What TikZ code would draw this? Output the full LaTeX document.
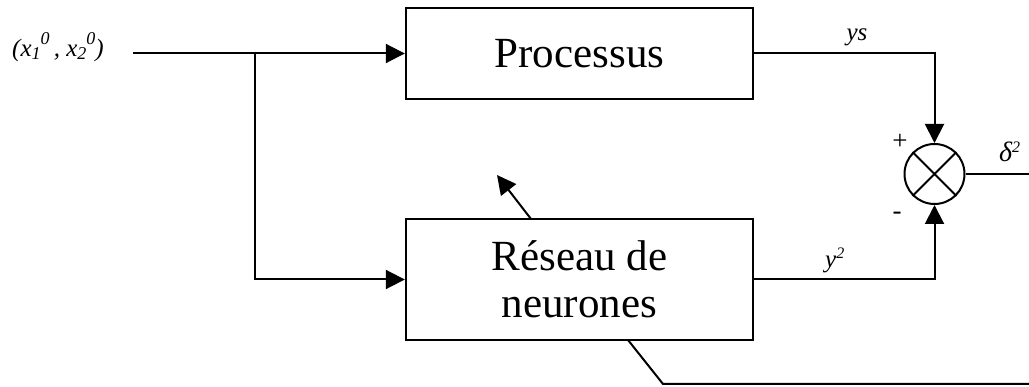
\documentclass[tikz,border=0pt]{standalone}
\usepackage{fontspec}
\setmainfont{Liberation Serif}
\usetikzlibrary{arrows.meta}
\newcommand{\mysup}[1]{\raisebox{12pt}{\fontsize{18}{18}\selectfont #1}}
\newcommand{\mysub}[1]{\raisebox{-3pt}{\fontsize{18}{18}\selectfont #1}}
\newcommand{\smsup}[1]{\raisebox{9pt}{\fontsize{16}{16}\selectfont #1}}
\begin{document}
\begin{tikzpicture}[x=1pt,y=-1pt,
  blk/.style={draw,line width=2.4pt,rectangle,minimum width=347pt,inner sep=0pt,align=center,font=\fontsize{43}{47}\selectfont},
  sumnode/.style={draw,line width=2pt,circle,minimum size=60pt,inner sep=0pt},
  wire/.style={line width=2pt},
  arr/.style={wire,-{Triangle[length=19pt,width=19pt]}},
  lbl/.style={font=\fontsize{25}{27}\selectfont\itshape,inner sep=0pt},
  sgn/.style={font=\fontsize{27}{29}\selectfont,inner sep=0pt}]
\useasboundingbox (0,0) rectangle (1029,387);
\node[blk,minimum height=91pt] (proc) at (579.5,53.5) {Processus};
\node[blk,minimum height=121pt] (res) at (579.5,279.5) {Réseau de\\neurones};
\node[sumnode] (sum) at (934.5,174) {};
\draw[line width=2pt] (sum.north west) -- (sum.south east) (sum.north east) -- (sum.south west);
\coordinate (in) at (133,53.5);
\coordinate (br) at (255,53.5);
\coordinate (dout) at (1029,174);
\coordinate (fb1) at (628,340);
\coordinate (fb2) at (663,384);
\coordinate (fbend) at (1029,384);
\coordinate (ad1) at (531,219);
\coordinate (ad2) at (497,175);
\draw[arr] (in) -- (proc.west);
\draw[arr] (br) |- (res.west);
\draw[arr] (proc.east) -| (sum.north);
\draw[arr] (res.east) -| (sum.south);
\draw[wire] (sum.east) -- (dout);
\draw[wire] (fb1) -- (fb2) -- (fbend);
\draw[arr] (ad1) -- (ad2);
\node[lbl,anchor=base west] (lin) at (12,57) {(x\mysub{1}\mysup{0}\,, x\mysub{2}\mysup{0})};
\node[lbl,anchor=base] (lys) at (857,41) {ys};
\node[lbl,anchor=base west] (ly2) at (825,268) {y\smsup{2}};
\node[lbl,anchor=base west] (ld) at (999,162) {\fontsize{28}{30}\selectfont δ\smsup{2}};
\node[sgn] (lp) at (900,142) {+};
\node[sgn] (lm) at (897,216) {-};
\end{tikzpicture}
\end{document}
